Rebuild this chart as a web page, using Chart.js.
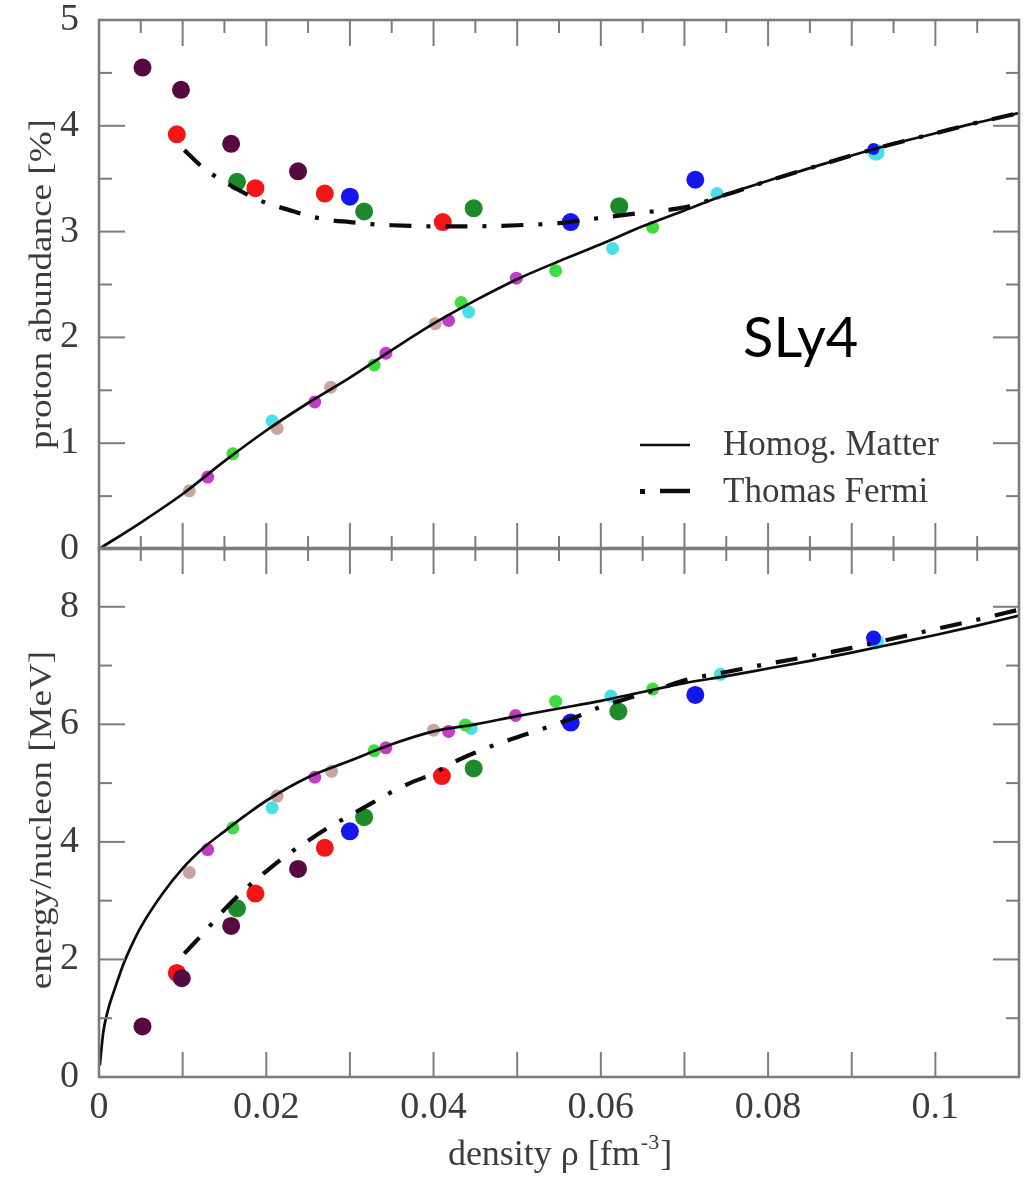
<!DOCTYPE html>
<html><head><meta charset="utf-8">
<script src="https://cdn.jsdelivr.net/npm/chart.js@4.4.1/dist/chart.umd.min.js"></script>
<style>
html,body{margin:0;padding:0;background:#fff;}
#wrap{position:relative;width:1028px;height:1178px;background:#fff;}
canvas{position:absolute;left:0;top:0;}
</style></head><body>
<div id="wrap"><canvas id="cTop" width="1028" height="1178"></canvas><canvas id="cBot" width="1028" height="1178"></canvas></div>
<script>
// ---------- tick labels ----------
const densityTicks = [0, 0.02, 0.04, 0.06, 0.08, 0.1];
const abundanceTicks = [0, 1, 2, 3, 4, 5];
const energyTicks = [0, 2, 4, 6, 8];

// ---------- curves: top panel (proton abundance %) ----------
const rhoHomogTop = [0, 0.005, 0.01, 0.015, 0.02, 0.025, 0.03, 0.035, 0.04, 0.045, 0.05, 0.055, 0.06, 0.065, 0.07, 0.075, 0.08, 0.085, 0.09, 0.095, 0.1, 0.105, 0.11];
const abundanceHomog = [0, 0.25, 0.52, 0.83, 1.12, 1.38, 1.62, 1.88, 2.13, 2.35, 2.55, 2.72, 2.88, 3.05, 3.2, 3.35, 3.48, 3.6, 3.72, 3.83, 3.93, 4.03, 4.12];
const rhoTFTop = [0.0102, 0.0125, 0.015, 0.0175, 0.02, 0.0225, 0.025, 0.0275, 0.03, 0.0325, 0.035, 0.04, 0.045, 0.05, 0.055, 0.06, 0.065, 0.07, 0.075, 0.08, 0.085, 0.09, 0.095, 0.1, 0.105, 0.11];
const abundanceTF = [3.77, 3.6, 3.47, 3.36, 3.27, 3.21, 3.15, 3.11, 3.09, 3.07, 3.06, 3.05, 3.05, 3.06, 3.08, 3.13, 3.18, 3.23, 3.35, 3.48, 3.6, 3.72, 3.83, 3.93, 4.03, 4.12];

// ---------- curves: bottom panel (energy / nucleon MeV) ----------
const rhoHomogBot = [0.0001, 0.0005, 0.001, 0.002, 0.003, 0.004, 0.005, 0.0075, 0.01, 0.0125, 0.015, 0.0175, 0.02, 0.025, 0.03, 0.035, 0.04, 0.045, 0.05, 0.055, 0.06, 0.065, 0.07, 0.075, 0.08, 0.085, 0.09, 0.095, 0.1, 0.105, 0.11];
const energyHomog = [0.2, 0.75, 1.1, 1.55, 1.95, 2.27, 2.55, 3.1, 3.55, 3.9, 4.18, 4.45, 4.7, 5.1, 5.38, 5.66, 5.88, 6.0, 6.14, 6.27, 6.4, 6.55, 6.7, 6.82, 6.95, 7.08, 7.22, 7.37, 7.52, 7.68, 7.85];
const rhoTFBot = [0.0102, 0.0125, 0.015, 0.0175, 0.02, 0.0225, 0.025, 0.0275, 0.03, 0.0325, 0.035, 0.0375, 0.04, 0.0425, 0.045, 0.0475, 0.05, 0.0525, 0.055, 0.0575, 0.06, 0.0625, 0.065, 0.0675, 0.07, 0.075, 0.08, 0.085, 0.09, 0.095, 0.1, 0.105, 0.11];
const energyTF = [2.1, 2.45, 2.85, 3.2, 3.5, 3.78, 4.02, 4.25, 4.45, 4.65, 4.85, 5.02, 5.16, 5.36, 5.52, 5.66, 5.78, 5.9, 6.02, 6.15, 6.3, 6.41, 6.52, 6.63, 6.75, 6.89, 7.03, 7.16, 7.3, 7.46, 7.62, 7.78, 7.95];

// ---------- scattered points (x = density, y = value) ----------
// top panel, large markers
const topMaroon = [[0.0052, 4.55], [0.0098, 4.34], [0.0158, 3.83], [0.0238, 3.57]];
const topRed    = [[0.0093, 3.92], [0.0187, 3.41], [0.0270, 3.36], [0.0411, 3.09]];
const topGreen  = [[0.0165, 3.47], [0.0317, 3.19], [0.0448, 3.22], [0.0622, 3.24]];
const topBlue   = [[0.0300, 3.33], [0.0564, 3.09], [0.0713, 3.49], [0.0926, 3.78]];
// top panel, small markers
const topTan     = [[0.0108, 0.55], [0.0213, 1.14], [0.0277, 1.53], [0.0402, 2.13]];
const topMagenta = [[0.0130, 0.68], [0.0258, 1.39], [0.0343, 1.85], [0.0418, 2.16], [0.0499, 2.56]];
const topLime    = [[0.0160, 0.90], [0.0329, 1.74], [0.0433, 2.33], [0.0546, 2.63], [0.0662, 3.04]];
const topCyan    = [[0.0207, 1.21], [0.0442, 2.24], [0.0614, 2.84], [0.0739, 3.36], [0.0929, 3.75]];
// bottom panel, large markers
const botMaroon = [[0.0052, 0.86], [0.0099, 1.68], [0.0158, 2.57], [0.0238, 3.54]];
const botRed    = [[0.0093, 1.77], [0.0187, 3.12], [0.0270, 3.90], [0.0410, 5.12]];
const botGreen  = [[0.0165, 2.87], [0.0317, 4.42], [0.0448, 5.25], [0.0621, 6.22]];
const botBlue   = [[0.0300, 4.18], [0.0564, 6.03], [0.0713, 6.50], [0.0926, 7.47]];
// bottom panel, small markers
const botTan     = [[0.0108, 3.48], [0.0213, 4.78], [0.0278, 5.20], [0.0400, 5.90]];
const botMagenta = [[0.0130, 3.87], [0.0258, 5.10], [0.0343, 5.60], [0.0418, 5.88], [0.0498, 6.15]];
const botLime    = [[0.0160, 4.24], [0.0329, 5.55], [0.0438, 5.99], [0.0546, 6.39], [0.0662, 6.60]];
const botCyan    = [[0.0207, 4.58], [0.0445, 5.93], [0.0612, 6.48], [0.0743, 6.85], [0.0929, 7.41]];

// ---------- styling ----------
const SERIF = '"Liberation Serif", "DejaVu Serif", serif';
const TXT = '#3c3c3c';
const FRAME = '#7c7c7c';
const COL = { maroon:'#560b40', red:'#f21616', green:'#1f8a2c', blue:'#1515ee',
  tan:'#c9a5a2', magenta:'#c63cc8', lime:'#3edc3e', cyan:'#48dfe6' };
const TF_DASH = [22, 15, 4, 15];

const pts = a => a.map(p => ({x:p[0], y:p[1]}));
const curve = (xs, ys) => xs.map((x,i) => ({x:x, y:ys[i]}));

function lineDs(label, data, dashed){
  return { type:'line', label, data, order:0, borderColor:'#0c0c0c',
    borderWidth: dashed ? 4.2 : 2.7, borderDash: dashed ? TF_DASH : [],
    borderCapStyle:'butt', pointRadius:0, fill:false, cubicInterpolationMode:'monotone' };
}
function ptDs(data, color, r, order){
  return { type:'scatter', data: pts(data), order, pointRadius:r, pointHoverRadius:r,
    pointBackgroundColor:color, pointBorderWidth:0, showLine:false };
}

function framePlugin(opt){
  return { id:'frame', afterDatasetsDraw(chart){
    const {ctx, chartArea:a, scales:{x, y}} = chart;
    ctx.save();
    ctx.strokeStyle = FRAME; ctx.lineWidth = 2;
    const seg = (x1,y1,x2,y2)=>{ctx.beginPath();ctx.moveTo(x1,y1);ctx.lineTo(x2,y2);ctx.stroke();};
    for (let i=0;i<=22;i++){
      const v = i*0.005, px = x.getPixelForValue(v), major = i%2===0;
      const L = major ? 26 : 13;
      if (opt.topTicks) seg(px, a.top, px, a.top + L);
      if (opt.bottomMajorOnly){ if (major) seg(px, a.bottom, px, a.bottom - 25); }
      else seg(px, a.bottom, px, a.bottom - L);
    }
    const n = Math.round(opt.yMax/opt.yMinor);
    for (let i=0;i<=n;i++){
      const v = i*opt.yMinor, py = y.getPixelForValue(v);
      const major = (i % Math.round(opt.yMajor/opt.yMinor)) === 0;
      const L = major ? 26 : 13;
      seg(a.left, py, a.left + L, py);
      seg(a.right, py, a.right - L, py);
    }
    ctx.lineWidth = 2.6;
    ctx.strokeRect(a.left, a.top, a.right - a.left, a.bottom - a.top);
    ctx.restore();
  }};
}

function vTitle(ctx, text, cx, cy){
  ctx.save();
  ctx.translate(cx, cy); ctx.rotate(-Math.PI/2); ctx.scale(1.16, 1);
  ctx.font = '32px ' + SERIF; ctx.fillStyle = TXT;
  ctx.textAlign = 'center'; ctx.textBaseline = 'middle';
  ctx.fillText(text, 0, 0);
  ctx.restore();
}

const topDecor = { id:'topDecor', afterDraw(chart){
  const ctx = chart.ctx;
  vTitle(ctx, 'proton abundance [%]', 43, 284);
  ctx.save();
  ctx.strokeStyle = '#0c0c0c'; ctx.lineWidth = 2.7;
  ctx.beginPath(); ctx.moveTo(640, 445); ctx.lineTo(690, 445); ctx.stroke();
  ctx.fillStyle = '#0c0c0c'; ctx.fillRect(640, 489, 5, 5);
  ctx.lineWidth = 4.5; ctx.beginPath(); ctx.moveTo(660, 491); ctx.lineTo(690, 491); ctx.stroke();
  ctx.font = '35px ' + SERIF; ctx.fillStyle = TXT; ctx.textBaseline = 'alphabetic';
  ctx.fillText(chart.data.datasets[0].label, 723, 455);
  ctx.fillText(chart.data.datasets[1].label, 723, 502);
  ctx.font = '56px Lato, "Open Sans", sans-serif'; ctx.fillStyle = '#000';
  ctx.fillText('SLy4', 743, 357);
  ctx.restore();
}};

const botDecor = { id:'botDecor', afterDraw(chart){
  const ctx = chart.ctx;
  vTitle(ctx, 'energy/nucleon [MeV]', 43, 820);
  ctx.save();
  ctx.fillStyle = TXT; ctx.textBaseline = 'alphabetic';
  const main = '36px ' + SERIF, sup = '22px ' + SERIF;
  ctx.font = main; const w1 = ctx.measureText('density \u03C1 [fm').width; const w3 = ctx.measureText(']').width;
  ctx.font = sup; const w2 = ctx.measureText('-3').width;
  const cx = (chart.chartArea.left + chart.chartArea.right)/2;
  let x0 = cx - (w1 + w2 + w3)/2;
  ctx.font = main; ctx.fillText('density \u03C1 [fm', x0, 1165);
  ctx.font = sup; ctx.fillText('-3', x0 + w1 + 1, 1149);
  ctx.font = main; ctx.fillText(']', x0 + w1 + w2 + 2, 1165);
  ctx.restore();
}};

const tickFont = { family: SERIF, size: 38 };
function xScale(show){
  return { type:'linear', min:0, max:0.11, display: show,
    grid:{display:false}, border:{display:false},
    afterBuildTicks: s => { s.ticks = densityTicks.map(v => ({value:v})); },
    afterFit: s => { if (show) s.height = 101; s.paddingLeft = 0; s.paddingRight = 0; },
    ticks:{ autoSkip:false, maxRotation:0, padding:0, color:TXT, font:tickFont, callback: v => String(v) } };
}
function yScale(max, tickVals){
  return { type:'linear', min:0, max, grid:{display:false}, border:{display:false},
    afterBuildTicks: s => { s.ticks = tickVals.map(v => ({value:v})); },
    afterFit: s => { s.width = 99; s.paddingTop = 0; s.paddingBottom = 0; },
    ticks:{ autoSkip:false, padding:12, color:TXT, font:tickFont, callback: v => String(v) } };
}
const common = { responsive:false, animation:false, devicePixelRatio:1,
  plugins:{ legend:{display:false}, tooltip:{enabled:false} }, events:[] };

new Chart(document.getElementById('cTop'), {
  type:'line',
  data:{ datasets:[
    lineDs('Homog. Matter', curve(rhoHomogTop, abundanceHomog), false),
    lineDs('Thomas Fermi', curve(rhoTFTop, abundanceTF), true),
    ptDs(topBlue, COL.blue, [9,9,9,6], 2),
    ptDs(topMaroon, COL.maroon, 9, 3),
    ptDs(topRed, COL.red, 9, 4),
    ptDs(topGreen, COL.green, 9, 4),
    ptDs(topTan, COL.tan, 6.5, 6),
    ptDs(topMagenta, COL.magenta, 6.5, 6),
    ptDs(topLime, COL.lime, 6.5, 6),
    ptDs(topCyan, COL.cyan, [6.5,6.5,6.5,6.5,8.5], 6)
  ]},
  options:Object.assign({}, common, {
    layout:{ padding:{ left:0, right:6, top:20, bottom:1178-549 } },
    scales:{ x:xScale(false), y:yScale(5, abundanceTicks) }
  }),
  plugins:[framePlugin({topTicks:true, bottomMajorOnly:false, yMax:5, yMinor:0.5, yMajor:1}), topDecor]
});

new Chart(document.getElementById('cBot'), {
  type:'line',
  data:{ datasets:[
    lineDs('Homog. Matter', curve(rhoHomogBot, energyHomog), false),
    lineDs('Thomas Fermi', curve(rhoTFBot, energyTF), true),
    ptDs(botBlue, COL.blue, [9,9,9,7.5], 2),
    ptDs(botMaroon, COL.maroon, 9, 3),
    ptDs(botRed, COL.red, 9, 4),
    ptDs(botGreen, COL.green, 9, 4),
    ptDs(botTan, COL.tan, 6.5, 6),
    ptDs(botMagenta, COL.magenta, 6.5, 6),
    ptDs(botLime, COL.lime, 6.5, 6),
    ptDs(botCyan, COL.cyan, [6.5,6.5,6.5,6.5,8], 6)
  ]},
  options:Object.assign({}, common, {
    layout:{ padding:{ left:0, right:6, top:548, bottom:0 } },
    scales:{ x:xScale(true), y:yScale(9, energyTicks) }
  }),
  plugins:[framePlugin({topTicks:true, bottomMajorOnly:true, yMax:9, yMinor:1, yMajor:2}), botDecor]
});
</script>
</body></html>
